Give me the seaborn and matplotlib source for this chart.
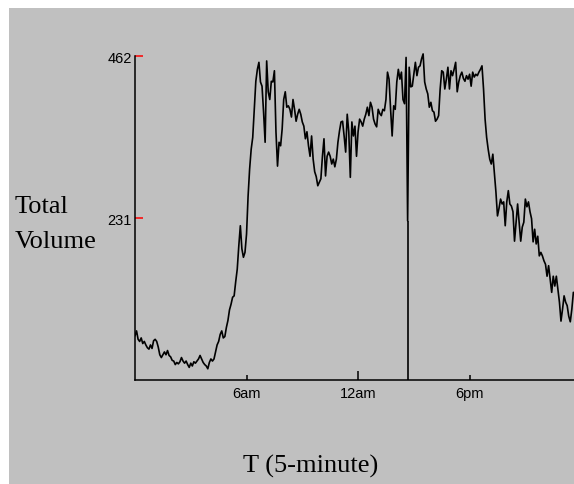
import numpy as np
import pandas as pd
import matplotlib
matplotlib.use('Agg')
import matplotlib.pyplot as plt
import seaborn as sns
from matplotlib.patches import Rectangle

# total volume per 5-minute slot
night = [63, 70, 58, 55, 60, 52, 55, 50, 46, 44, 50, 45, 56, 58, 55, 47, 36, 32, 36, 40,
         36, 42, 35, 33, 28, 27, 22, 25, 23, 26, 32, 27, 24, 27, 22, 18, 24, 20, 26, 24,
         27, 30, 35, 30, 25, 22, 20, 16, 25, 30, 27, 30, 40, 50, 55, 65, 70, 60, 62, 75,
         85, 100, 108, 118, 120, 140, 158]
morning = [191, 220, 187, 175, 182, 208, 262, 301, 329, 346, 386, 426, 443, 453, 425, 419, 382, 339, 455, 411,
           400, 426, 425, 441, 354, 305, 339, 334, 358, 400, 411, 389, 391, 386, 375, 400, 386, 369, 379]
midday = [386, 379, 368, 362, 344, 354, 334, 319, 348, 315, 297, 290, 277, 282, 287, 319, 344, 291, 319, 325,
          319, 308, 315, 304, 315, 339, 355, 368, 369, 348, 325, 379, 354, 289, 368, 348, 362, 319, 354, 372,
          368, 362, 372, 379, 389, 377, 396, 389, 372, 365, 361, 386, 380, 377, 386, 384, 400, 439, 429]
afternoon = [386, 348, 391, 386, 425, 443, 429, 439, 400, 394, 460, 227, 446, 418, 419, 436, 453, 434, 446, 448,
             458, 465, 425, 415, 408, 389, 396, 384, 382, 369, 372, 377, 415, 441, 439, 415, 429, 446, 415, 441,
             434, 443, 453, 411, 425, 434, 439, 430, 426, 434, 429, 436, 419, 439, 432, 436]
evening = [434, 439, 443, 448, 415, 372, 346, 329, 315, 308, 322, 294, 268, 234, 245, 258, 251, 254, 220, 254,
           270, 251, 248, 240, 198, 225, 251, 225, 198, 218, 225, 258, 247, 254, 240, 230, 197, 215, 194, 205,
           177, 182, 177, 170, 165, 148, 163, 144, 125, 148, 134, 148, 130, 111, 84, 101, 120, 111, 106, 91,
           83, 101, 125]

hour_ticks = [72, 216]          # 6am, 6pm (5-minute slots)
hour_labels = ['6am', '6pm']
noon_tick = [144]
noon_label = ['12am']
y_ticks = [231, 462]

volume = night + morning + midday + afternoon + evening
df = pd.DataFrame({'t': np.arange(len(volume)), 'volume': volume})

# the marker line sits at the dip in the afternoon
start = len(night) + len(morning) + len(midday)
dip = start + int(np.argmin(afternoon))

sns.set_style('ticks')
plt.rcParams['font.family'] = ['Liberation Sans', 'DejaVu Sans']
plt.rcParams['text.color'] = 'black'
plt.rcParams['xtick.labelcolor'] = 'black'
plt.rcParams['ytick.labelcolor'] = 'black'

fig = plt.figure(figsize=(5.74, 4.85), dpi=100, facecolor='white')
fig.patches.append(Rectangle((9 / 574, 0), 1, 1 - 9 / 485, transform=fig.transFigure,
                             facecolor='#c0c0c0', edgecolor='none', zorder=-10))
ax = fig.add_axes([135 / 574, 104 / 485, 439 / 574, 336.6 / 485])
ax.set_facecolor('none')

sns.lineplot(data=df, x='t', y='volume', color='black', lw=1.2, ax=ax)
ax.vlines(dip, 0, volume[dip], color='black', lw=1.2)

ax.set_xlim(0, 283.4)
ax.set_ylim(0, 480)
ax.set_xlabel('')
ax.set_ylabel('')

ax.set_xticks(noon_tick, noon_label)
ax.set_xticks(hour_ticks, hour_labels, minor=True)
ax.set_yticks(y_ticks, [str(v) for v in y_ticks])

ax.tick_params(axis='x', which='major', direction='in', length=6.5, width=1.1,
               color='black', labelcolor='black', pad=4.5, labelsize=10.5)
ax.tick_params(axis='x', which='minor', direction='in', length=3.6, width=1.1,
               color='black', labelcolor='black', pad=4.5, labelsize=10.5)
ax.tick_params(axis='y', direction='in', length=5.8, width=1.1,
               color='red', labelcolor='black', pad=2.5, labelsize=10.5)

for s in ['top', 'right']:
    ax.spines[s].set_visible(False)
for s in ['left', 'bottom']:
    ax.spines[s].set_color('black')
    ax.spines[s].set_linewidth(1.1)
ax.spines['left'].set_bounds(0, 462)

serif = ['Liberation Serif', 'DejaVu Serif']
fig.text(15 / 574, 1 - 213 / 485, 'Total', family=serif, size=19, va='baseline', color='black')
fig.text(15 / 574, 1 - 248 / 485, 'Volume', family=serif, size=19, va='baseline', color='black')
fig.text(310.5 / 574, 1 - 473 / 485, 'T (5-minute)', family=serif, size=19,
         ha='center', va='baseline', color='black')

fig.savefig('out.png', dpi=100)
